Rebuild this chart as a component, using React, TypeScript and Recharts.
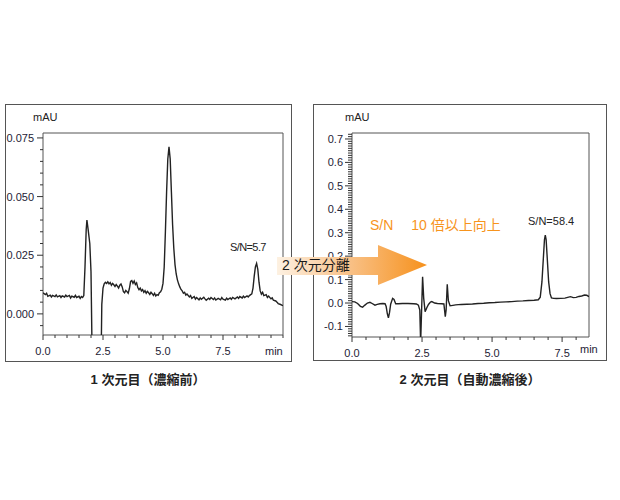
import { Line, LineChart, ReferenceArea, XAxis, YAxis } from "recharts";

// Two chromatograms side by side: 1st dimension (before concentration) and
// 2nd dimension (after on-line concentration), joined by an orange arrow.

const leftTimes = [
  0, 0.1, 0.15, 0.2, 0.3, 0.35, 0.4, 0.5, 0.55, 0.6, 0.7, 0.75, 0.8, 0.9, 0.95, 1.0, 1.1, 1.15, 1.2, 1.3,
  1.35, 1.4, 1.5, 1.55, 1.6, 1.65, 1.7, 1.75, 1.8, 1.83, 1.88, 1.95, 2.0, 2.05, 2.42, 2.45, 2.5, 2.55, 2.6,
  2.65, 2.7, 2.75, 2.8, 2.85, 2.9, 2.95, 3.0, 3.05, 3.1, 3.15, 3.2, 3.25, 3.3, 3.35, 3.4, 3.45, 3.5, 3.55,
  3.6, 3.65, 3.7, 3.75, 3.8, 3.85, 3.9, 3.95, 4.0, 4.05, 4.1, 4.15, 4.2, 4.25, 4.3, 4.35, 4.4, 4.45, 4.5,
  4.55, 4.6, 4.65, 4.7, 4.75, 4.8, 4.85, 4.9, 4.95, 5.0, 5.05, 5.1, 5.15, 5.2, 5.25, 5.3, 5.35, 5.4, 5.45,
  5.5, 5.55, 5.6, 5.65, 5.7, 5.75, 5.8, 5.85, 5.9, 5.95, 6.0, 6.1, 6.15, 6.2, 6.3, 6.35, 6.4, 6.5, 6.55,
  6.6, 6.7, 6.75, 6.8, 6.9, 6.95, 7.0, 7.1, 7.15, 7.2, 7.3, 7.4, 7.45, 7.5, 7.6, 7.65, 7.7, 7.8, 7.85, 7.9,
  8.0, 8.1, 8.15, 8.2, 8.3, 8.35, 8.4, 8.5, 8.55, 8.6, 8.7, 8.75, 8.8, 8.85, 8.9, 8.95, 9.0, 9.05, 9.1,
  9.15, 9.2, 9.3, 9.35, 9.4, 9.5, 9.55, 9.6, 9.7, 9.75, 9.8, 9.9, 10.0,
];
const leftSignal = [
  0.009, 0.0082, 0.0088, 0.0075, 0.008, 0.0072, 0.0079, 0.0074, 0.0081, 0.0073, 0.0078, 0.007, 0.0077,
  0.0072, 0.008, 0.0074, 0.0079, 0.0068, 0.0076, 0.0071, 0.0079, 0.007, 0.0075, 0.0066, 0.0074, 0.007,
  0.0078, 0.02, 0.036, 0.04, 0.036, 0.03, 0.018, -0.02, -0.02, 0.004, 0.011, 0.0128, 0.0135, 0.013, 0.0137,
  0.0128, 0.0134, 0.0122, 0.013, 0.0124, 0.0117, 0.0125, 0.0118, 0.011, 0.0122, 0.0127, 0.0115, 0.0095,
  0.009, 0.01, 0.0095, 0.0088, 0.0108, 0.0138, 0.0142, 0.013, 0.014, 0.0125, 0.0132, 0.0112, 0.0103, 0.011,
  0.0098, 0.0104, 0.0092, 0.0099, 0.0088, 0.0096, 0.009, 0.0083, 0.0092, 0.0086, 0.0079, 0.0088, 0.0076,
  0.0082, 0.0079, 0.009, 0.0094, 0.0105, 0.013, 0.02, 0.035, 0.052, 0.066, 0.0712, 0.066, 0.052, 0.038,
  0.028, 0.021, 0.017, 0.0145, 0.0128, 0.0115, 0.0104, 0.0098, 0.0088, 0.0092, 0.008, 0.0085, 0.0072,
  0.0078, 0.0066, 0.0074, 0.0063, 0.007, 0.006, 0.0068, 0.0062, 0.0071, 0.0064, 0.0058, 0.0067, 0.0062,
  0.007, 0.0061, 0.0068, 0.0059, 0.0066, 0.006, 0.007, 0.0063, 0.0059, 0.0067, 0.0061, 0.0068, 0.0062,
  0.007, 0.0064, 0.0072, 0.0066, 0.0074, 0.0068, 0.0076, 0.007, 0.0077, 0.0072, 0.0078, 0.0085, 0.011,
  0.016, 0.02, 0.0215, 0.019, 0.0135, 0.0098, 0.0084, 0.0092, 0.0078, 0.0082, 0.007, 0.0076, 0.0064,
  0.0068, 0.0058, 0.0055, 0.005, 0.0044, 0.004, 0.0035,
];

const rightTimes = [
  0, 0.1, 0.2, 0.3, 0.38, 0.45, 0.55, 0.64, 0.72, 0.82, 0.9, 1.0, 1.1, 1.18, 1.22, 1.26, 1.3, 1.34, 1.38,
  1.45, 1.5, 1.56, 1.65, 1.8, 2.0, 2.2, 2.3, 2.37, 2.42, 2.45, 2.48, 2.52, 2.56, 2.61, 2.67, 2.73, 2.8,
  2.85, 2.95, 3.05, 3.2, 3.28, 3.33, 3.36, 3.4, 3.44, 3.5, 3.6, 3.7, 3.9, 4.1, 4.3, 4.5, 4.7, 4.9, 5.1,
  5.3, 5.5, 5.7, 5.9, 6.1, 6.3, 6.5, 6.65, 6.72, 6.78, 6.83, 6.87, 6.9, 6.93, 6.97, 7.02, 7.07, 7.12, 7.2,
  7.3, 7.45, 7.6, 7.7, 7.8, 7.9, 8.0, 8.1, 8.2, 8.3, 8.38, 8.46,
];
const rightSignal = [
  0.006, 0.005, -0.002, -0.014, -0.018, -0.01, 0.0, 0.003, -0.002, -0.009, -0.006, -0.003, -0.002, -0.003,
  -0.015, -0.045, -0.063, -0.04, -0.005, 0.02, 0.015, -0.003, -0.003, -0.002, -0.002, -0.003, -0.004,
  -0.009, -0.03, -0.17, -0.05, 0.112, 0.02, -0.037, -0.02, -0.006, 0.004, 0.006, 0.0, -0.002, -0.003,
  -0.004, -0.058, -0.03, 0.08, 0.01, -0.012, -0.01, -0.008, -0.006, -0.005, -0.004, -0.002, -0.001, 0.001,
  0.002, 0.004, 0.005, 0.006, 0.008, 0.009, 0.011, 0.012, 0.014, 0.025, 0.09, 0.19, 0.27, 0.29, 0.27, 0.19,
  0.09, 0.04, 0.022, 0.02, 0.019, 0.02, 0.021, 0.024, 0.027, 0.023, 0.024, 0.028, 0.03, 0.034, 0.033, 0.027,
];

const leftYLabels = [0, 0.025, 0.05, 0.075];
const rightYLabels = [-0.1, 0, 0.1, 0.2, 0.3, 0.4, 0.5, 0.6, 0.7];
const xLabels = [0, 2.5, 5, 7.5];

const leftXDomain = [0, 10];
const leftYDomain = [-0.009, 0.0771];
const rightXDomain = [0, 8.46];
const rightYDomain = [-0.145, 0.7255];

const leftData = leftTimes.map((t, i) => ({ t, v: leftSignal[i] }));
const rightData = rightTimes.map((t, i) => ({ t, v: rightSignal[i] }));

const LATIN = '"Liberation Sans", Arial, "Noto Sans CJK JP", sans-serif';
const TICK_COLOR = "#1e2235";
const FRAME = "#555";
const TRACE = "#222";

function steps(from: number, to: number, step: number): number[] {
  const out: number[] = [];
  const n = Math.round((to - from) / step);
  for (let i = 0; i <= n; i++) out.push(Math.round((from + i * step) * 10000) / 10000);
  return out;
}

function isMajor(v: number, majors: number[]) {
  return majors.some((m) => Math.abs(m - v) < 1e-7);
}

function makeXTick(majors: number[], majorLen: number, minorLen: number) {
  return (p: any) => {
    const v = p.payload.value as number;
    const major = isMajor(v, majors);
    return (
      <g>
        <line x1={p.x} x2={p.x} y1={p.y} y2={p.y + (major ? majorLen : minorLen)} stroke="#333" />
        {major && (
          <text x={p.x} y={p.y + 20} textAnchor="middle" fontSize={11} fontFamily={LATIN} fill={TICK_COLOR}>
            {v.toFixed(1)}
          </text>
        )}
      </g>
    );
  };
}

function makeYTick(majors: number[], digits: number, majorLen: number, minorLen: number) {
  return (p: any) => {
    const v = p.payload.value as number;
    const major = isMajor(v, majors);
    return (
      <g>
        <line x1={p.x - (major ? majorLen : minorLen)} x2={p.x} y1={p.y} y2={p.y} stroke="#333" />
        {major && (
          <text x={p.x - 9} y={p.y + 4} textAnchor="end" fontSize={11} fontFamily={LATIN} fill={TICK_COLOR}>
            {v.toFixed(digits)}
          </text>
        )}
      </g>
    );
  };
}

function Txt({
  x,
  y,
  children,
  size = 11,
  color = "#222",
  weight = 400,
  center = false,
  spacing = 0,
}: {
  x: number;
  y: number;
  children: any;
  size?: number;
  color?: string;
  weight?: number;
  center?: boolean;
  spacing?: number;
}) {
  return (
    <div
      style={{
        position: "absolute",
        left: x,
        top: y,
        transform: center ? "translate(-50%, -50%)" : "translate(0, -50%)",
        fontSize: size,
        lineHeight: 1,
        fontWeight: weight,
        color,
        fontFamily: LATIN,
        whiteSpace: "pre",
        letterSpacing: spacing,
      }}
    >
      {children}
    </div>
  );
}

function Box({ x, y, w, h }: { x: number; y: number; w: number; h: number }) {
  return (
    <div
      style={{
        position: "absolute",
        left: x,
        top: y,
        width: w,
        height: h,
        boxSizing: "border-box",
        border: `1px solid ${FRAME}`,
      }}
    />
  );
}

export default function App() {
  const leftYTicks = steps(-0.005, 0.075, 0.005);
  const leftXTicks = steps(0, 10, 0.5);
  const rightYTicks = steps(-0.14, 0.72, 0.01);
  const rightXTicks = steps(0, 8.0, 0.5);

  return (
    <div style={{ position: "absolute", left: 0, top: 0, width: 620, height: 500, background: "#fff" }}>
      <Box x={5} y={104} w={287} h={258} />
      <Box x={313} y={104} w={294} h={257} />

      <div style={{ position: "absolute", left: 5, top: 104 }}>
        <LineChart width={287} height={258} data={leftData} margin={{ top: 29, right: 9, bottom: 0, left: 0 }}>
          <XAxis
            dataKey="t"
            type="number"
            domain={leftXDomain}
            ticks={leftXTicks}
            interval={0}
            allowDataOverflow
            axisLine={false}
            tickLine={false}
            tickSize={0}
            tickMargin={0}
            height={27}
            tick={makeXTick(xLabels, 5, 3)}
          />
          <YAxis
            type="number"
            domain={leftYDomain}
            ticks={leftYTicks}
            interval={0}
            allowDataOverflow
            axisLine={false}
            tickLine={false}
            tickSize={0}
            tickMargin={0}
            width={38}
            tick={makeYTick(leftYLabels, 3, 6, 3)}
          />
          <ReferenceArea
            x1={leftXDomain[0]}
            x2={leftXDomain[1]}
            y1={leftYDomain[0]}
            y2={leftYDomain[1]}
            fill="none"
            stroke={FRAME}
            ifOverflow="visible"
          />
          <Line type="linear" dataKey="v" stroke={TRACE} strokeWidth={1.4} dot={false} isAnimationActive={false} />
        </LineChart>
      </div>

      <div style={{ position: "absolute", left: 313, top: 104 }}>
        <LineChart width={294} height={257} data={rightData} margin={{ top: 29, right: 18, bottom: 0, left: 0 }}>
          <XAxis
            dataKey="t"
            type="number"
            domain={rightXDomain}
            ticks={rightXTicks}
            interval={0}
            allowDataOverflow
            axisLine={false}
            tickLine={false}
            tickSize={0}
            tickMargin={0}
            height={24}
            tick={makeXTick(xLabels, 5, 3)}
          />
          <YAxis
            type="number"
            domain={rightYDomain}
            ticks={rightYTicks}
            interval={0}
            allowDataOverflow
            axisLine={false}
            tickLine={false}
            tickSize={0}
            tickMargin={0}
            width={39}
            tick={makeYTick(rightYLabels, 1, 7, 4)}
          />
          <ReferenceArea
            x1={rightXDomain[0]}
            x2={rightXDomain[1]}
            y1={rightYDomain[0]}
            y2={rightYDomain[1]}
            fill="none"
            stroke={FRAME}
            ifOverflow="visible"
          />
          <Line type="linear" dataKey="v" stroke={TRACE} strokeWidth={1.4} dot={false} isAnimationActive={false} />
        </LineChart>
      </div>

      <Txt x={33} y={117}>mAU</Txt>
      <Txt x={345} y={117}>mAU</Txt>
      <Txt x={265} y={351} color={TICK_COLOR}>min</Txt>
      <Txt x={580} y={349} color={TICK_COLOR}>min</Txt>
      <Txt x={230} y={247} spacing={-0.6}>S/N=5.7</Txt>
      <Txt x={528} y={221}>S/N=58.4</Txt>
      <Txt x={370} y={225} size={14} color="#f7941d">
        {"S/N\u3000 10 倍以上向上"}
      </Txt>

      <svg width={620} height={500} style={{ position: "absolute", left: 0, top: 0 }}>
        <defs>
          <linearGradient id="arrowFill" x1="0" y1="0" x2="1" y2="0">
            <stop offset="0" stopColor="#fdf1e2" />
            <stop offset="0.45" stopColor="#f9c48e" />
            <stop offset="1" stopColor="#f6911c" />
          </linearGradient>
        </defs>
        <polygon
          points="277,257 378,257 378,245 427,265 378,285 378,275 277,275"
          fill="url(#arrowFill)"
        />
      </svg>
      <Txt x={282} y={265} size={14} color="#1a1a1a">
        2 次元分離
      </Txt>

      <Txt x={148} y={379} size={13} weight={700} center>
        1 次元目（濃縮前）
      </Txt>
      <Txt x={470} y={379} size={13} weight={700} center>
        2 次元目（自動濃縮後）
      </Txt>
    </div>
  );
}
